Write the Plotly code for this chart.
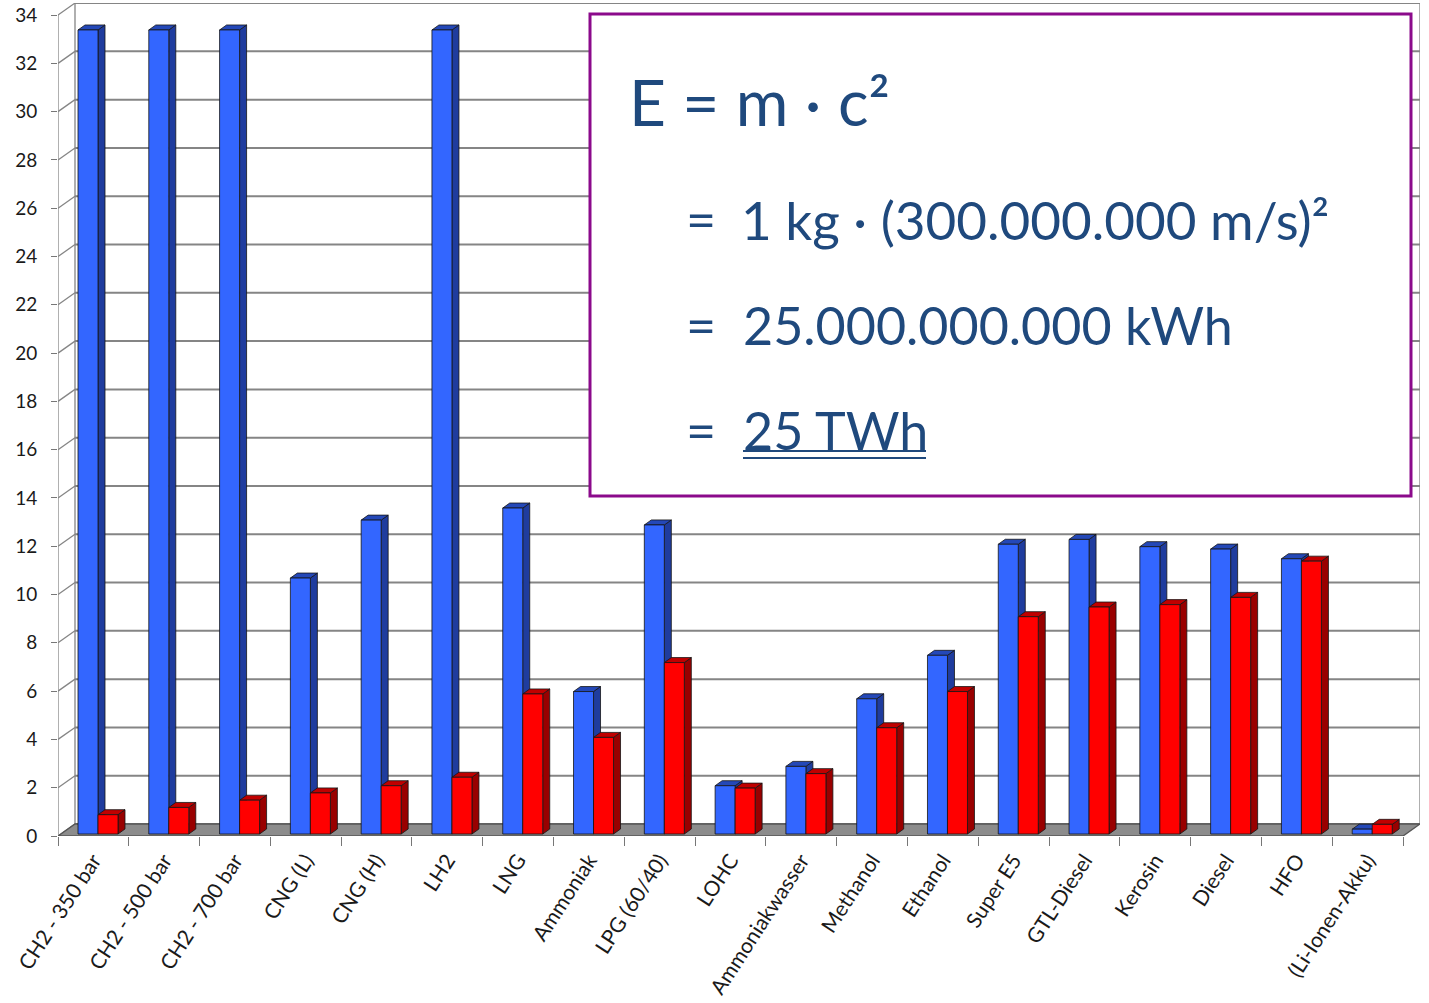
import plotly.graph_objects as go

# Energy density per kilogram (blue) and per litre (red), in kWh
categories = [
    "CH2 - 350 bar", "CH2 - 500 bar", "CH2 - 700 bar", "CNG (L)", "CNG (H)",
    "LH2", "LNG", "Ammoniak", "LPG (60/40)", "LOHC", "Ammoniakwasser",
    "Methanol", "Ethanol", "Super E5", "GTL-Diesel", "Kerosin", "Diesel",
    "HFO", "(Li-Ionen-Akku)",
]
per_kg = [33.3, 33.3, 33.3, 10.6, 13.0, 33.3, 13.5, 5.9, 12.8, 2.0, 2.8,
          5.6, 7.4, 12.0, 12.2, 11.9, 11.8, 11.4, 0.2]
per_litre = [0.8, 1.1, 1.4, 1.7, 2.0, 2.35, 5.8, 4.0, 7.1, 1.9, 2.5,
             4.4, 5.9, 9.0, 9.4, 9.5, 9.8, 11.3, 0.4]
y_ticks = list(range(0, 35, 2))

# ---- page geometry (pixels) ----
W, H = 1429, 1003
PLOT_L, PLOT_R, PLOT_T, PLOT_B = 58, 1420, 3, 836
X_RANGE = [-0.5, 18.74]
Y_RANGE = [0, 34.5]
PX_PER_X = (PLOT_R - PLOT_L) / (X_RANGE[1] - X_RANGE[0])
PX_PER_Y = (PLOT_B - PLOT_T) / (Y_RANGE[1] - Y_RANGE[0])

# pseudo-3D depth of the chart walls and of the columns
WALL_DX, WALL_DY = 17 / PX_PER_X, 12 / PX_PER_Y
BAR_DX, BAR_DY = 7 / PX_PER_X, 5 / PX_PER_Y
BAR_W = 20 / PX_PER_X
BAR_BASE = 2 / PX_PER_Y          # columns stand slightly behind the floor edge
BLUE_OFF = -0.5 + 20 / PX_PER_X
RED_OFF = BLUE_OFF + BAR_W

BLUE, BLUE_DARK, BLUE_TOP = "#3366FF", "#1F3C9E", "#2448B8"
RED, RED_DARK, RED_TOP = "#FF0000", "#990000", "#C00000"
EDGE = "#151515"
GRID = "#858585"
TEXT_BLUE = "#1F497D"


def px_x(px):
    return (px - PLOT_L) / (PLOT_R - PLOT_L)


def px_y(py):
    return (PLOT_B - py) / (PLOT_B - PLOT_T)


n = len(categories)
x_back_l = X_RANGE[0] + WALL_DX
x_back_r = X_RANGE[1]
x_front_r = x_back_r - WALL_DX

shapes = []

# back wall: gridlines, edges
for v in y_ticks:
    shapes.append(dict(type="line", xref="x", yref="y", layer="below",
                       x0=x_back_l, x1=x_back_r, y0=v + WALL_DY, y1=v + WALL_DY,
                       line=dict(color=GRID, width=2)))
    # side-wall connector from the front axis to the back wall
    shapes.append(dict(type="line", xref="x", yref="y", layer="below",
                       x0=X_RANGE[0], x1=x_back_l, y0=v, y1=v + WALL_DY,
                       line=dict(color=GRID, width=1.3)))
for xe in (x_back_l, x_back_r):
    shapes.append(dict(type="line", xref="x", yref="y", layer="below",
                       x0=xe, x1=xe, y0=WALL_DY, y1=y_ticks[-1] + WALL_DY,
                       line=dict(color=GRID, width=1.3)))
shapes.append(dict(type="line", xref="x", yref="y", layer="below",
                   x0=X_RANGE[0], x1=X_RANGE[0], y0=0, y1=y_ticks[-1],
                   line=dict(color=GRID, width=1.3)))

# floor
shapes.append(dict(
    type="path", xref="x", yref="y", layer="between",
    path=(f"M {X_RANGE[0]},0 L {x_front_r},0 L {x_back_r},{WALL_DY} "
          f"L {x_back_l},{WALL_DY} Z"),
    fillcolor="#8c8c8c", line=dict(color="#555555", width=1.4)))


def column_faces(values, offset, top_col, side_col):
    out = []
    for i, v in enumerate(values):
        xl = i + offset
        xr = xl + BAR_W
        y0, y1 = BAR_BASE, BAR_BASE + v
        out.append(dict(
            type="path", xref="x", yref="y", layer="between",
            path=(f"M {xr},{y0} L {xr},{y1} L {xr + BAR_DX},{y1 + BAR_DY} "
                  f"L {xr + BAR_DX},{y0 + BAR_DY} Z"),
            fillcolor=side_col, line=dict(color=EDGE, width=0.8)))
        out.append(dict(
            type="path", xref="x", yref="y", layer="between",
            path=(f"M {xl},{y1} L {xr},{y1} L {xr + BAR_DX},{y1 + BAR_DY} "
                  f"L {xl + BAR_DX},{y1 + BAR_DY} Z"),
            fillcolor=top_col, line=dict(color=EDGE, width=0.8)))
    return out


shapes += column_faces(per_kg, BLUE_OFF, BLUE_TOP, BLUE_DARK)
shapes += column_faces(per_litre, RED_OFF, RED_TOP, RED_DARK)

# formula box
shapes.append(dict(type="rect", xref="paper", yref="paper", layer="above",
                   x0=px_x(590), x1=px_x(1411), y0=px_y(496), y1=px_y(14),
                   fillcolor="white", line=dict(color="#8B0A8B", width=3)))
# double underline of the result
for uy in (451, 458):
    shapes.append(dict(type="line", xref="paper", yref="paper", layer="above",
                       x0=px_x(743), x1=px_x(926), y0=px_y(uy), y1=px_y(uy),
                       line=dict(color=TEXT_BLUE, width=2)))

fig = go.Figure()
xs = list(range(n))
fig.add_trace(go.Bar(x=xs, y=per_kg, base=BAR_BASE, width=BAR_W, offset=BLUE_OFF,
                     marker=dict(color=BLUE, line=dict(color=EDGE, width=0.8)),
                     name="kWh/kg"))
fig.add_trace(go.Bar(x=xs, y=per_litre, base=BAR_BASE, width=BAR_W, offset=RED_OFF,
                     marker=dict(color=RED, line=dict(color=EDGE, width=0.8)),
                     name="kWh/l"))

FONT = "Lato"
annotations = [
    dict(text="E = m · c²", x=px_x(627), y=px_y(101), size=64),
    dict(text="=", x=px_x(684), y=px_y(219), size=52),
    dict(text="1 kg · (300.000.000 m/s)²", x=px_x(739), y=px_y(219), size=53),
    dict(text="=", x=px_x(684), y=px_y(325), size=52),
    dict(text="25.000.000.000 kWh", x=px_x(741), y=px_y(325), size=52),
    dict(text="=", x=px_x(684), y=px_y(430), size=52),
    dict(text="25 TWh", x=px_x(741), y=px_y(430), size=52),
]
fig.update_layout(annotations=[
    dict(text=a["text"], x=a["x"], y=a["y"], xref="paper", yref="paper",
         xanchor="left", yanchor="middle", showarrow=False,
         font=dict(family=FONT, size=a["size"], color=TEXT_BLUE))
    for a in annotations
])

fig.update_layout(
    width=W, height=H,
    margin=dict(l=PLOT_L, r=W - PLOT_R, t=PLOT_T, b=H - PLOT_B, autoexpand=False),
    paper_bgcolor="white", plot_bgcolor="white",
    barmode="overlay", showlegend=False,
    shapes=shapes,
    font=dict(family=FONT, color="#1a1a1a"),
)
fig.update_xaxes(
    range=X_RANGE, tickmode="array", tickvals=xs, ticktext=categories,
    tickangle=-57, ticks="", showgrid=False, zeroline=False, showline=False,
    tickfont=dict(family=FONT, size=21, color="#1a1a1a"),
    minor=dict(tickmode="array", tickvals=[i - 0.5 for i in range(n + 1)],
               ticks="outside", ticklen=9, tickcolor="#777", tickwidth=1.3,
               showgrid=False),
    ticklabelstandoff=7,
)
fig.update_yaxes(
    range=Y_RANGE, tickmode="array", tickvals=y_ticks,
    ticks="outside", ticklen=6, tickcolor="#777", tickwidth=1.3,
    showgrid=False, zeroline=False, showline=False,
    tickfont=dict(family=FONT, size=19, color="#1a1a1a"),
    ticklabelstandoff=10,
)

fig.write_html("out.html")
